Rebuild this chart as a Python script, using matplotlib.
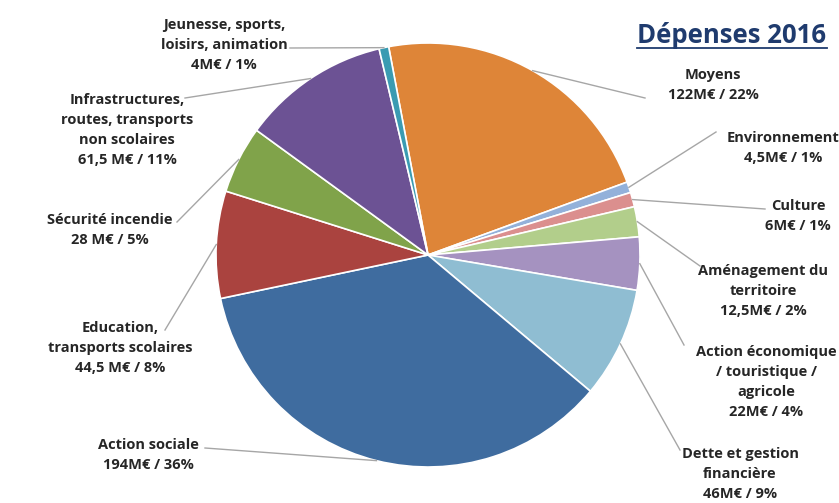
import matplotlib
matplotlib.use("Agg")
import matplotlib.pyplot as plt
import numpy as np

# spending 2016, clockwise from the top
categories = ["Moyens", "Environnement", "Culture", "Aménagement du territoire",
              "Action économique", "Dette et gestion financière", "Action sociale",
              "Education", "Sécurité incendie", "Infrastructures", "Jeunesse"]
amounts = [122, 4.5, 6, 12.5, 22, 46, 194, 44.5, 28, 61.5, 4]
label_texts = [
    "Moyens\n122M€ / 22%",
    "Environnement\n4,5M€ / 1%",
    "Culture\n6M€ / 1%",
    "Aménagement du\nterritoire\n12,5M€ / 2%",
    "Action économique\n/ touristique /\nagricole\n22M€ / 4%",
    "Dette et gestion\nfinancière\n46M€ / 9%",
    "Action sociale\n194M€ / 36%",
    "Education,\ntransports scolaires\n44,5 M€ / 8%",
    "Sécurité incendie\n28 M€ / 5%",
    "Infrastructures,\nroutes, transports\nnon scolaires\n61,5 M€ / 11%",
    "Jeunesse, sports,\nloisirs, animation\n4M€ / 1%",
]
colors = ["#DE8538", "#93B1DA", "#DB8F8E", "#B2CE8B", "#A592C0", "#8FBDD2",
          "#3F6C9F", "#AA433F", "#80A34A", "#6C5294", "#3A9BB2"]

W, H = 839, 503
cx, cy, R = 428, 255, 212

# label text centre (px) and leader start (px)
label_pos = [(713, 85), (783, 148), (798, 216), (763, 291), (766, 382),
             (740, 474), (148, 455), (120, 348), (110, 230), (127, 130), (224, 45)]
leader_end = [(645, 98), (716, 132), (765, 209), (700, 266), (684, 345),
              (680, 450), (205, 448), (165, 330), (177, 222), (185, 98), (290, 48)]

plt.rcParams['font.family'] = ['Open Sans', 'DejaVu Sans']

fig = plt.figure(figsize=(W / 100, H / 100), dpi=100)
ax = fig.add_axes([0, 0, 1, 1])

wedges, _ = ax.pie(amounts, colors=colors, startangle=100.7, counterclock=False,
                   center=(cx, H - cy), radius=R,
                   wedgeprops=dict(edgecolor="white", linewidth=1.2))
ax.set_xlim(0, W)
ax.set_ylim(0, H)
ax.set_aspect("equal")
ax.axis("off")

for w, txt, (tx, ty), (lx, ly) in zip(wedges, label_texts, label_pos, leader_end):
    mid = np.deg2rad((w.theta1 + w.theta2) / 2)
    px = cx + R * np.cos(mid)
    py = cy - R * np.sin(mid)
    ax.plot([px, lx], [H - py, H - ly], color="#A6A6A6", lw=1)
    ax.text(tx, H - ty, txt, ha="center", va="center", fontsize=10.5,
            fontweight="bold", color="#262626", linespacing=1.55)

ax.text(732, H - 35, "Dépenses 2016", ha="center", va="center", fontsize=18.5,
        fontweight="bold", color="#1F3B6E")
ax.plot([637, 827], [H - 48, H - 48], color="#1F3B6E", lw=1.3)

fig.savefig("out.png", dpi=100)
